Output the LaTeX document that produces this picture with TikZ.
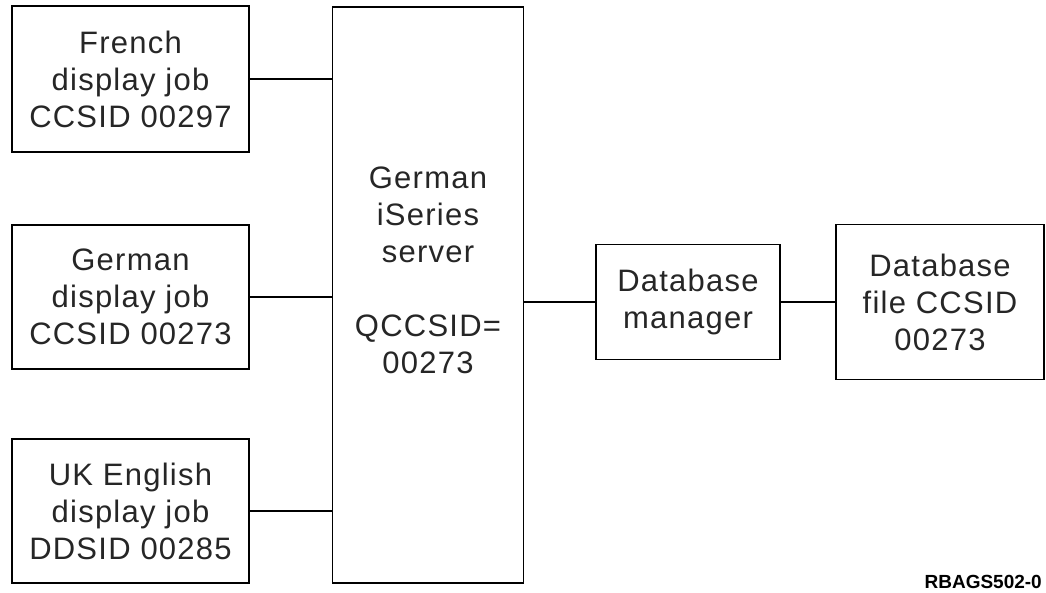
\documentclass[tikz,border=0pt]{standalone}
\usepackage{fontspec}
\setmainfont{Liberation Sans}
\newfontfamily\boxfont[LetterSpace=4]{Liberation Sans}
\usetikzlibrary{calc}

\begin{document}
\begin{tikzpicture}[x=1pt,y=-1pt,
    box/.style={draw,line width=1.7pt,inner sep=0pt,align=center,
      text=black!85,font=\boxfont\fontsize{31}{37}\selectfont},
    wire/.style={line width=1.4pt}]
  \useasboundingbox (0,0) rectangle (1046,592);
  % display jobs
  \node[box,minimum width=237pt,minimum height=146pt] (french) at (130.5,79)
    {French\\display job\\CCSID 00297};
  \node[box,minimum width=237pt,minimum height=144pt] (germanjob) at (130.5,297)
    {German\\display job\\CCSID 00273};
  \node[box,minimum width=237pt,minimum height=144pt] (ukjob) at (130.5,511)
    {UK English\\display job\\DDSID 00285};
  % server
  \node[box,minimum width=191pt,minimum height=576pt] (server) at (428,295) {};
  \node[align=center,inner sep=0pt,text=black!85,
    font=\boxfont\fontsize{31}{37}\selectfont] (servertxt)
    at ($(server.center)+(0,-25)$) {German\\iSeries\\server\\[37pt]QCCSID=\\00273};
  % database side
  \node[box,minimum width=184pt,minimum height=115pt] (dbm) at (688,302)
    {Database\\manager};
  \node[box,minimum width=208pt,minimum height=155pt] (dbfile) at (940,302)
    {Database\\file CCSID\\00273};
  \node[anchor=south east,inner sep=0pt,font=\bfseries\fontsize{19}{19}\selectfont] (figid)
    at (1042,589) {RBAGS502-0};
  % connectors
  \draw[wire] (french.east) -- (french.east -| server.west);
  \draw[wire] (germanjob.east) -- (germanjob.east -| server.west);
  \draw[wire] (ukjob.east) -- (ukjob.east -| server.west);
  \draw[wire] (dbm.west -| server.east) -- (dbm.west);
  \draw[wire] (dbm.east) -- (dbfile.west);
\end{tikzpicture}
\end{document}
